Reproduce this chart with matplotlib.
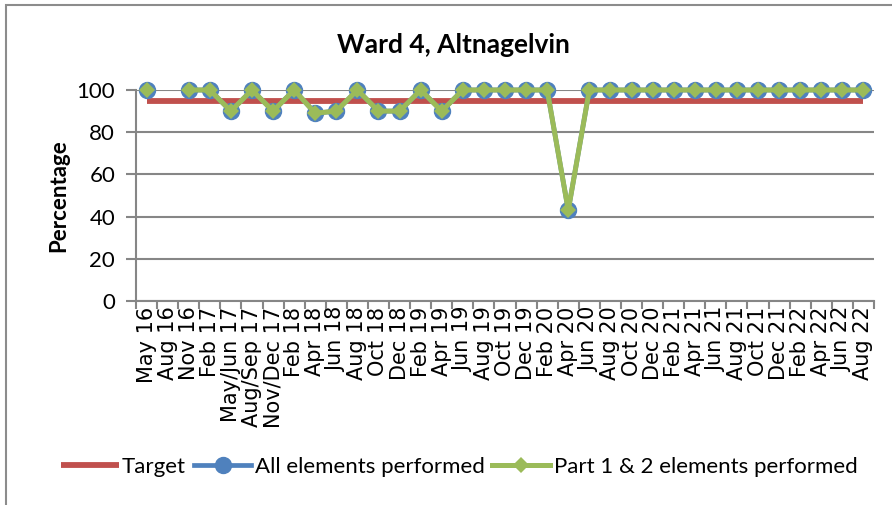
import numpy as np
import matplotlib
matplotlib.use("Agg")
import matplotlib.pyplot as plt
from matplotlib.patches import Rectangle

# categories and values
periods = ["May 16", "Aug 16", "Nov 16", "Feb 17", "May/Jun 17", "Aug/Sep 17",
           "Nov/Dec 17", "Feb 18", "Apr 18", "Jun 18", "Aug 18", "Oct 18",
           "Dec 18", "Feb 19", "Apr 19", "Jun 19", "Aug 19", "Oct 19", "Dec 19",
           "Feb 20", "Apr 20", "Jun 20", "Aug 20", "Oct 20", "Dec 20", "Feb 21",
           "Apr 21", "Jun 21", "Aug 21", "Oct 21", "Dec 21", "Feb 22", "Apr 22",
           "Jun 22", "Aug 22"]
target = [95] * len(periods)
all_elements = [100, np.nan, 100, 100, 90, 100, 90, 100, 89, 90, 100, 90,
                90, 100, 90, 100, 100, 100, 100, 100, 43, 100, 100, 100, 100,
                100, 100, 100, 100, 100, 100, 100, 100, 100, 100]
part_1_2 = [100, np.nan, 100, 100, 90, 100, 90, 100, 89, 90, 100, 90,
            90, 100, 90, 100, 100, 100, 100, 100, 43, 100, 100, 100, 100,
            100, 100, 100, 100, 100, 100, 100, 100, 100, 100]

RED = "#C0504D"
BLUE = "#4F81BD"
GREEN = "#9BBB59"
GRID = "#868686"
LATO = ["Lato", "DejaVu Sans"]

plt.rcParams["font.family"] = ["DejaVu Sans"]

fig = plt.figure(figsize=(8.92, 5.05), dpi=100)
fig.patches.append(Rectangle((6 / 892, -0.1), 1.2, (505 - 5) / 505 + 0.1,
                             transform=fig.transFigure, fill=False,
                             edgecolor="#8c8c8c", linewidth=1.5))

ax = fig.add_axes([136 / 892, (505 - 301) / 505, (874 - 136) / 892, 211 / 505])
x = np.arange(len(periods))

ax.plot(x, target, color=RED, lw=4.2, solid_capstyle="butt", label="Target", zorder=3)
ax.plot(x, all_elements, color=BLUE, lw=3.4, marker="o", markersize=11.5,
        label="All elements performed", zorder=4, clip_on=False)
ax.plot(x, part_1_2, color=GREEN, lw=3.6, marker="D", markersize=8.3,
        markeredgewidth=0, label="Part 1 & 2 elements performed", zorder=5,
        clip_on=False)

ax.set_xlim(-0.5, len(periods) - 0.5)
ax.set_ylim(0, 100)
ax.set_yticks([0, 20, 40, 60, 80, 100])
ax.yaxis.grid(True, color=GRID, lw=1.5)
ax.set_axisbelow(True)

ax.set_xticks(x)
ax.set_xticks(np.arange(len(periods) + 1) - 0.5, minor=True)
ax.tick_params(axis="x", which="major", length=0, pad=4)
ax.tick_params(axis="x", which="minor", length=6, color=GRID, width=1.5)
ax.tick_params(axis="y", length=7, color=GRID, width=1.5, pad=8, labelsize=16,
               labelfontfamily="Lato")
ax.set_xticklabels(periods)
for lab in ax.get_xticklabels():
    lab.set_rotation(90)
    lab.set_fontsize(15)
    lab.set_fontfamily("DejaVu Sans")

for s in ["top", "right"]:
    ax.spines[s].set_visible(False)
for s in ["left", "bottom"]:
    ax.spines[s].set_color(GRID)
    ax.spines[s].set_linewidth(1.5)

ax.set_ylabel("Percentage", family=LATO, fontweight="bold", fontsize=16, labelpad=5)
fig.text(453 / 892, 1 - 45 / 505, "Ward 4, Altnagelvin", family=LATO,
         fontweight="bold", fontsize=19, ha="center", va="center")

leg = fig.legend(loc="center", bbox_to_anchor=(459 / 892, 1 - 467 / 505), ncol=3,
                 frameon=False, prop={"family": LATO, "size": 16},
                 handlelength=2.6, handletextpad=0.15, columnspacing=0.35)

fig.savefig("out.png", dpi=100)
